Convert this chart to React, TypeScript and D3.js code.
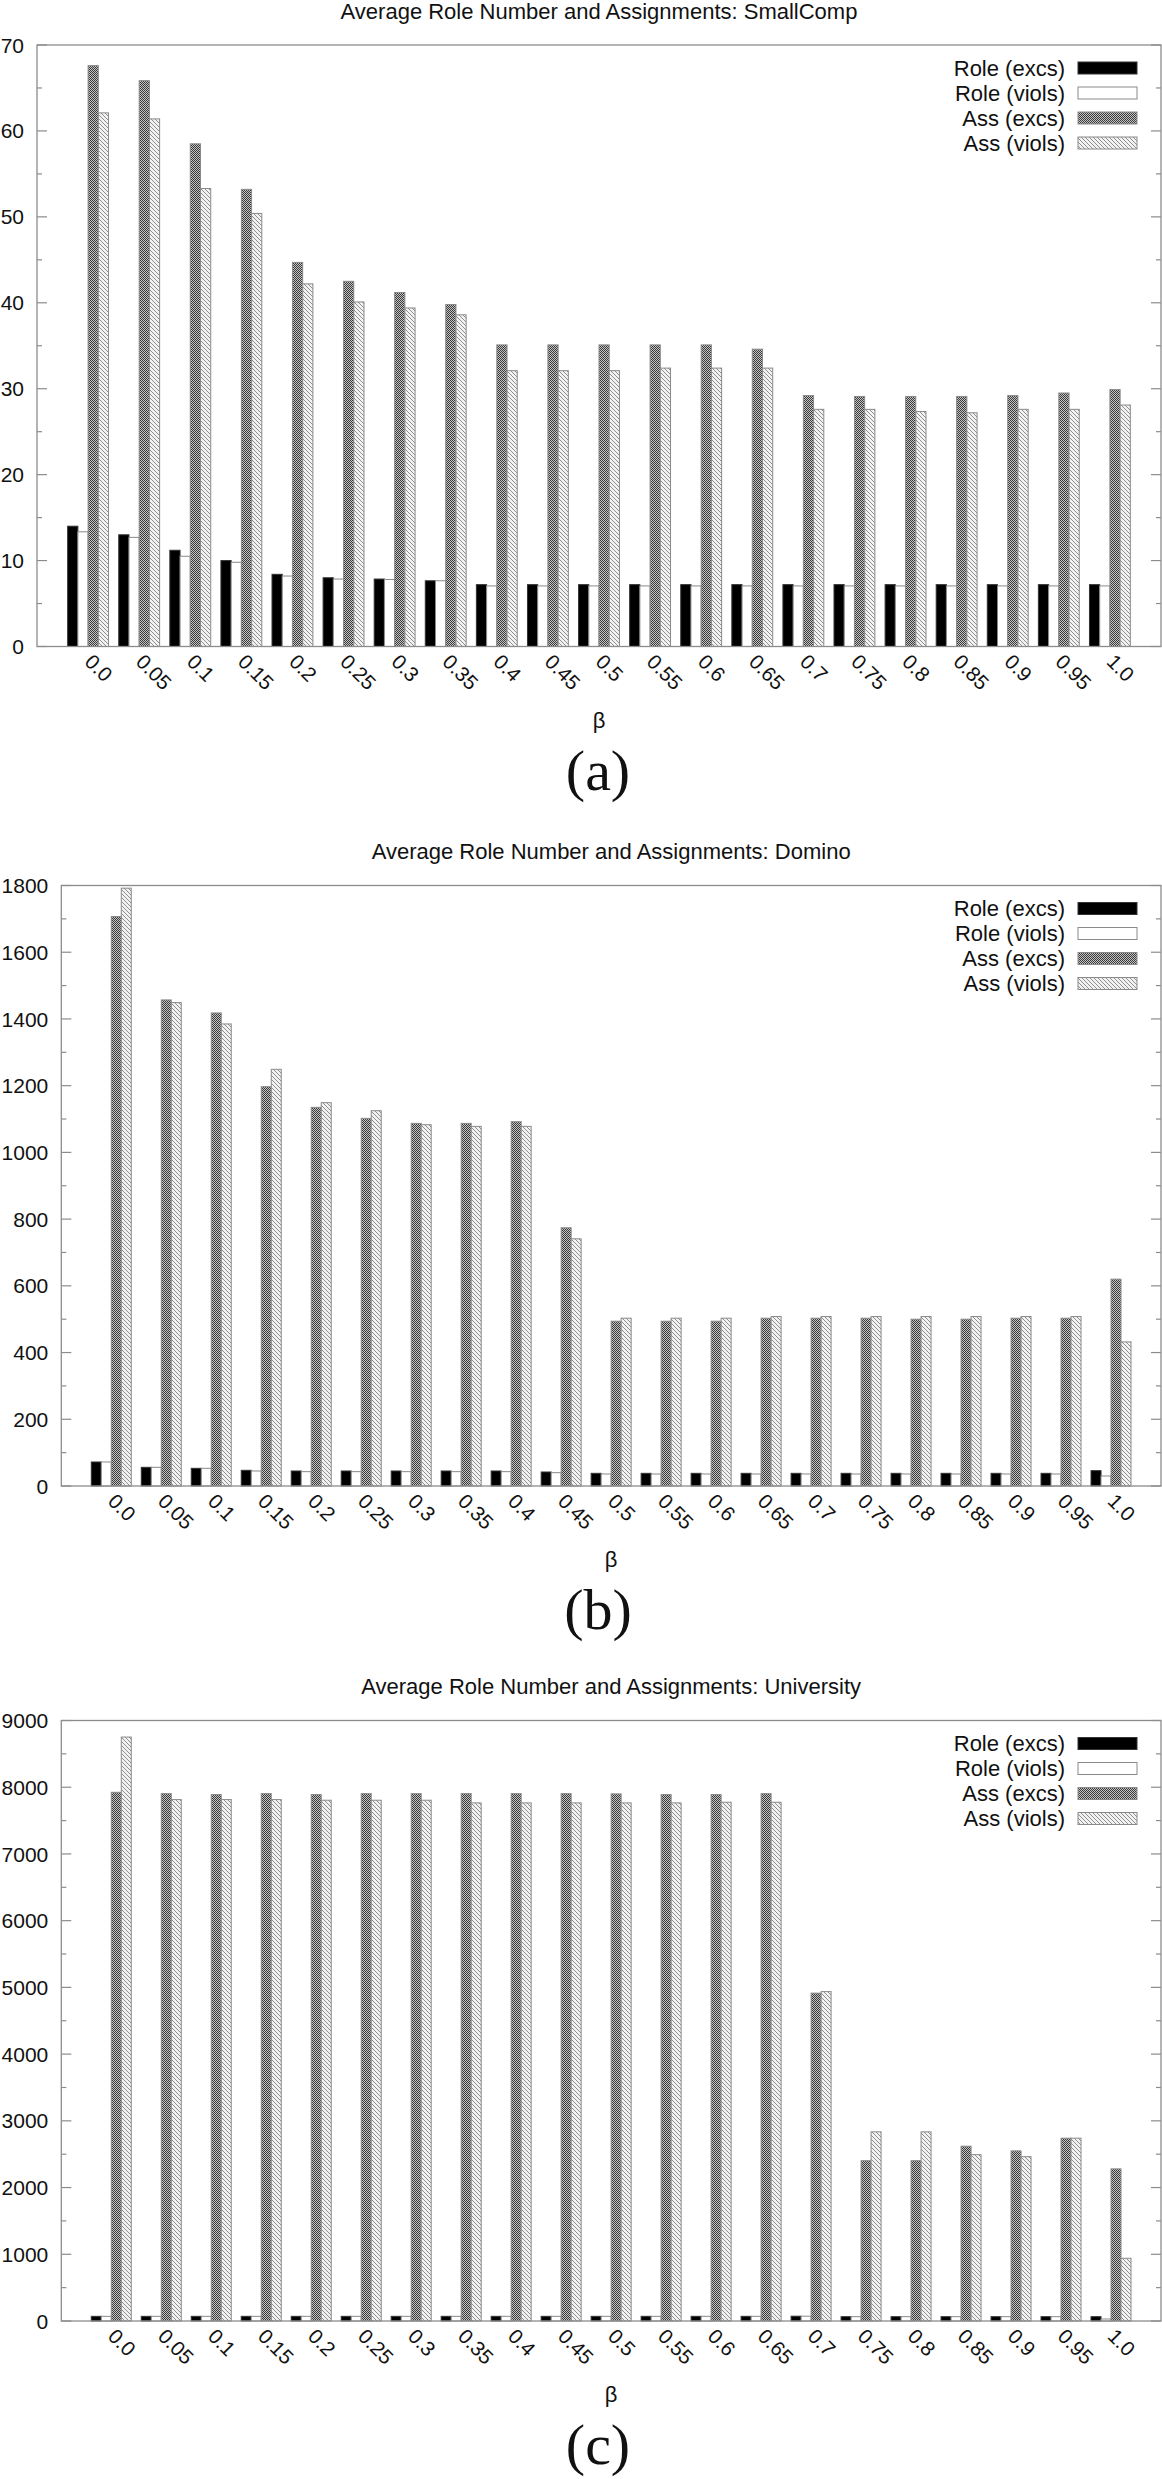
import React from "react";
import * as d3 from "d3";

const betas = ["0.0","0.05","0.1","0.15","0.2","0.25","0.3","0.35","0.4","0.45","0.5","0.55","0.6","0.65","0.7","0.75","0.8","0.85","0.9","0.95","1.0"];
const seriesNames = ["Role (excs)", "Role (viols)", "Ass (excs)", "Ass (viols)"];

// SmallComp
const smallRoleExcs = [14.0, 13.0, 11.2, 10.0, 8.4, 8.0, 7.85, 7.65, 7.2, 7.2, 7.2, 7.2, 7.2, 7.2, 7.2, 7.2, 7.2, 7.2, 7.2, 7.2, 7.2];
const smallRoleViols = [13.35, 12.7, 10.5, 9.8, 8.2, 7.85, 7.8, 7.65, 7.05, 7.05, 7.05, 7.05, 7.05, 7.05, 7.05, 7.05, 7.05, 7.05, 7.05, 7.05, 7.05];
const smallAssExcs = [67.6, 65.85, 58.5, 53.2, 44.7, 42.5, 41.2, 39.8, 35.1, 35.1, 35.1, 35.1, 35.1, 34.6, 29.2, 29.1, 29.1, 29.1, 29.2, 29.5, 29.9];
const smallAssViols = [62.1, 61.4, 53.3, 50.4, 42.2, 40.1, 39.4, 38.6, 32.1, 32.1, 32.1, 32.4, 32.4, 32.4, 27.6, 27.6, 27.35, 27.2, 27.6, 27.6, 28.1];

// Domino
const domRoleExcs = [72, 56, 53, 47, 45, 45, 45, 45, 45, 42, 38, 38, 38, 38, 38, 38, 38, 38, 38, 38, 46];
const domRoleViols = [72, 56, 53, 45, 43, 43, 43, 43, 43, 40, 36, 36, 36, 36, 36, 36, 36, 36, 36, 36, 30];
const domAssExcs = [1707, 1457, 1418, 1197, 1135, 1102, 1087, 1087, 1092, 774, 494, 494, 494, 503, 503, 503, 500, 500, 503, 503, 620];
const domAssViols = [1792, 1449, 1385, 1249, 1149, 1125, 1083, 1078, 1078, 741, 503, 503, 503, 508, 508, 508, 508, 508, 508, 508, 432];

// University
const uniRoleExcs = [70, 70, 70, 70, 70, 70, 70, 70, 70, 70, 70, 70, 70, 70, 72, 65, 65, 65, 65, 65, 65];
const uniRoleViols = [70, 70, 70, 70, 70, 70, 70, 70, 70, 70, 70, 70, 70, 70, 72, 65, 65, 65, 65, 65, 30];
const uniAssExcs = [7924, 7904, 7890, 7904, 7890, 7904, 7904, 7904, 7904, 7904, 7900, 7890, 7890, 7904, 4914, 2403, 2403, 2620, 2550, 2740, 2280];
const uniAssViols = [8752, 7815, 7815, 7815, 7805, 7805, 7805, 7765, 7765, 7765, 7765, 7765, 7775, 7775, 4937, 2835, 2835, 2493, 2463, 2740, 940];

const fills = ["#000", "#fff", "url(#pCheck)", "url(#pHatch)"];
const FONT = "'Liberation Sans', Arial, sans-serif";
const SERIF = "'Liberation Serif', 'Times New Roman', serif";
const FRAME = "#8c8c8c";

type PanelProps = {
  title: string; label: string; yMax: number; major: number; minor: number;
  left: number; top: number; bottom: number; series: number[][];
};

function Panel({ title, label, yMax, major, minor, left, top, bottom, series }: PanelProps) {
  const right = 1161;
  const x = d3.scaleLinear().domain([-1, 21]).range([left, right]);
  const y = d3.scaleLinear().domain([0, yMax]).range([bottom, top]);
  const step = x(1) - x(0);
  const bw = step / 5;
  const minorTicks = d3.range(0, yMax + 0.001, minor);
  const cx = (left + right) / 2;
  return (
    <g>
      <text x={cx} y={top - 26.5} textAnchor="middle" fontFamily={FONT} fontSize={22} fill="#111">{title}</text>
      {betas.map((b, i) =>
        series.map((s, k) => {
          const x0 = x(i) - 2 * bw + k * bw;
          const yv = y(s[i]);
          return (
            <rect key={`${i}-${k}`} x={x0} y={yv} width={bw} height={bottom - yv}
              fill={fills[k]} stroke={k === 0 ? "#333" : "#8a8a8a"} strokeWidth={1} />
          );
        })
      )}
      {minorTicks.map((t) => {
        const isMajor = Math.abs(t / major - Math.round(t / major)) < 1e-6;
        const len = isMajor ? 10 : 5;
        const yy = y(t);
        return (
          <g key={`t${t}`}>
            <line x1={left} x2={left + len} y1={yy} y2={yy} stroke={FRAME} strokeWidth={1.2} />
            <line x1={right} x2={right - len} y1={yy} y2={yy} stroke={FRAME} strokeWidth={1.2} />
            {isMajor && (
              <text x={left - 13} y={yy} dy="0.36em" textAnchor="end" fontFamily={FONT} fontSize={21} fill="#111">{t}</text>
            )}
          </g>
        );
      })}
      <rect x={left} y={top} width={right - left} height={bottom - top} fill="none" stroke={FRAME} strokeWidth={1.3} />
      {betas.map((b, i) => (
        <text key={`xl${i}`} transform={`translate(${x(i) - 4.5},${bottom + 16.5}) rotate(45)`}
          fontFamily={FONT} fontSize={20.5} fill="#111">{b}</text>
      ))}
      <text x={cx} y={bottom + 81} textAnchor="middle" fontFamily={FONT} fontSize={22} fill="#111">β</text>
      {seriesNames.map((n, k) => {
        const ry = top + 23 + k * 25;
        return (
          <g key={`lg${k}`}>
            <text x={1065} y={ry} dy="0.36em" textAnchor="end" fontFamily={FONT} fontSize={22} fill="#111">{n}</text>
            <rect x={1078} y={ry - 6} width={59} height={12} fill={fills[k]} stroke={k === 0 ? "#333" : "#8a8a8a"} strokeWidth={1} />
          </g>
        );
      })}
      <text x={598} y={bottom + 143} textAnchor="middle" fontFamily={SERIF} fontSize={58} fill="#111">{label}</text>
    </g>
  );
}

export default function App() {
  return (
    <svg width={1162} height={2479} style={{ position: "absolute", left: 0, top: 0, background: "#fff" }}>
      <defs>
        <pattern id="pCheck" width={2} height={2} patternUnits="userSpaceOnUse">
          <rect width={2} height={2} fill="#c4c4c4" />
          <rect x={0} y={0} width={1} height={1} fill="#3a3a3a" />
          <rect x={1} y={1} width={1} height={1} fill="#3a3a3a" />
        </pattern>
        <pattern id="pHatch" width={4} height={4} patternUnits="userSpaceOnUse">
          <rect width={4} height={4} fill="#f2f2f2" />
          <path d="M-1,-1 L5,5 M-1,3 L1,5 M3,-1 L5,1" stroke="#8f8f8f" strokeWidth={1} />
        </pattern>
      </defs>
      <rect width={1162} height={2479} fill="#fff" />
      <Panel title="Average Role Number and Assignments: SmallComp" label="(a)" yMax={70} major={10} minor={5}
        left={37} top={45} bottom={646.5}
        series={[smallRoleExcs, smallRoleViols, smallAssExcs, smallAssViols]} />
      <Panel title="Average Role Number and Assignments: Domino" label="(b)" yMax={1800} major={200} minor={100}
        left={61.3} top={885.5} bottom={1486}
        series={[domRoleExcs, domRoleViols, domAssExcs, domAssViols]} />
      <Panel title="Average Role Number and Assignments: University" label="(c)" yMax={9000} major={1000} minor={500}
        left={61.3} top={1720.5} bottom={2321}
        series={[uniRoleExcs, uniRoleViols, uniAssExcs, uniAssViols]} />
    </svg>
  );
}
